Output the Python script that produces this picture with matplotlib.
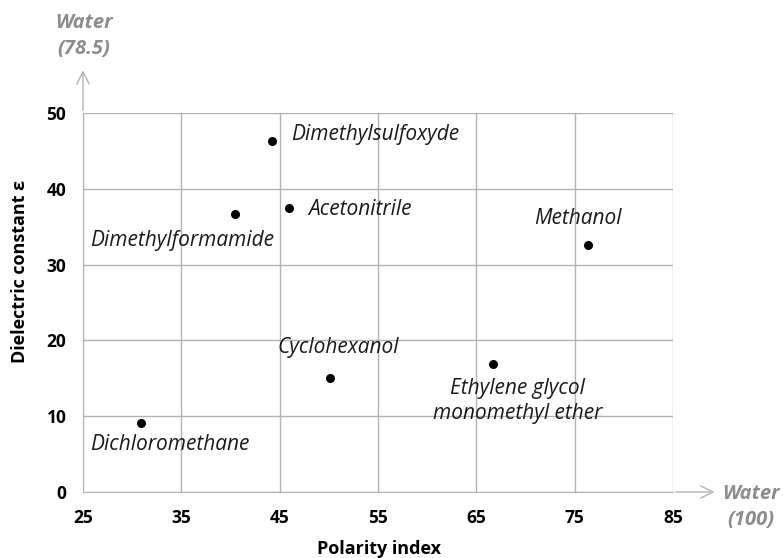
import matplotlib
matplotlib.use('Agg')
import matplotlib.pyplot as plt

# solvents: polarity index vs dielectric constant
solvents = ['Dichloromethane', 'Dimethylsulfoxyde', 'Dimethylformamide', 'Acetonitrile',
            'Methanol', 'Cyclohexanol', 'Ethylene glycol\nmonomethyl ether']
polarity = [30.9, 44.2, 40.5, 45.9, 76.4, 50.1, 66.7]
dielectric = [9.1, 46.3, 36.7, 37.5, 32.6, 15.0, 16.9]

# label anchors (data coords) and alignment
label_x = [25.7, 46.2, 25.7, 47.9, 75.3, 51.0, 69.2]
label_y = [6.2, 47.1, 33.2, 37.3, 36.1, 19.0, 12.0]
label_ha = ['left', 'left', 'left', 'left', 'center', 'center', 'center']

x_ticks = [25, 35, 45, 55, 65, 75, 85]
y_ticks = [0, 10, 20, 30, 40, 50]

plt.rcParams['font.family'] = ['Open Sans', 'DejaVu Sans']

fig = plt.figure(figsize=(7.83, 5.58), dpi=100)
ax = fig.add_axes([0.106, 0.1183, 0.7535, 0.6792])

grid_c = '#b3b3b3'
ax.set_xlim(25, 85)
ax.set_ylim(0, 50)
ax.set_xticks(x_ticks)
ax.set_yticks(y_ticks)
ax.grid(True, color=grid_c, linewidth=1)
ax.set_axisbelow(True)
for s in ['top', 'right']:
    ax.spines[s].set_visible(False)
for s in ['left', 'bottom']:
    ax.spines[s].set_color(grid_c)
ax.tick_params(length=0, labelsize=12.5, pad=12)
for t in ax.get_xticklabels() + ax.get_yticklabels():
    t.set_fontweight('bold')

ax.scatter(polarity, dielectric, s=30, color='black', zorder=3, clip_on=False)

for name, lx, ly, ha in zip(solvents, label_x, label_y, label_ha):
    ax.text(lx, ly, name, ha=ha, va='center', fontsize=15, style='italic',
            linespacing=1.3, color='#1a1a1a')

# arrows extending the axes
ax.annotate('', xy=(0, 1.12), xytext=(0, 1.0), xycoords='axes fraction',
            arrowprops=dict(arrowstyle='->', color=grid_c, lw=1, mutation_scale=22),
            annotation_clip=False)
ax.annotate('', xy=(1.075, 0), xytext=(1.0, 0), xycoords='axes fraction',
            arrowprops=dict(arrowstyle='->', color=grid_c, lw=1, mutation_scale=22),
            annotation_clip=False)

water_c = '#8c8c8c'
fig.text(84 / 783, 1 - 36 / 558, 'Water\n(78.5)', ha='center', va='center', color=water_c,
         fontsize=14.5, style='italic', fontweight='bold', linespacing=1.35)
fig.text(751 / 783, 1 - 507 / 558, 'Water\n(100)', ha='center', va='center', color=water_c,
         fontsize=14.5, style='italic', fontweight='bold', linespacing=1.35)

fig.text(379 / 783, 1 - 549 / 558, 'Polarity index', ha='center', va='center',
         fontsize=13, fontweight='bold')
fig.text(20 / 783, 1 - 272 / 558, 'Dielectric constant ε', ha='center', va='center',
         rotation=90, fontsize=13, fontweight='bold')

fig.savefig('out.png', dpi=100)
